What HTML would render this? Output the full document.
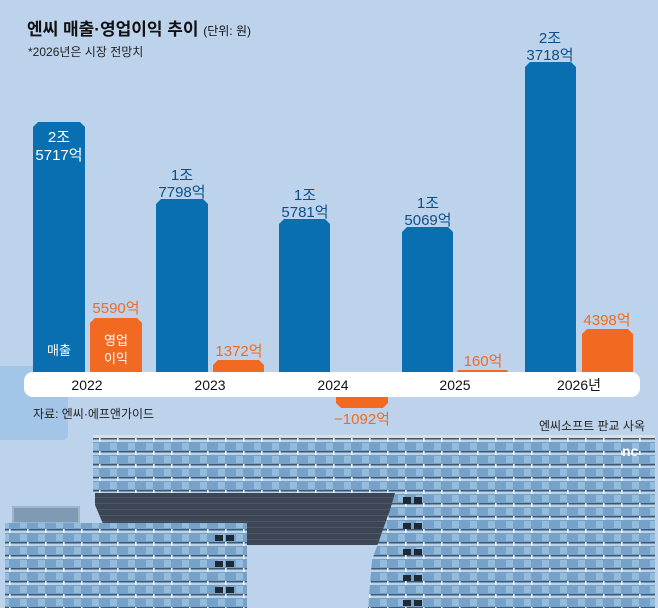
<!DOCTYPE html>
<html><head><meta charset="utf-8"><style>
html,body{margin:0;padding:0;background:#bdd3ec}
svg{display:block}
text{font-family:"Liberation Sans","Noto Sans CJK KR",sans-serif}
</style></head><body>
<svg width="658" height="608" viewBox="0 0 658 608" xmlns="http://www.w3.org/2000/svg">
<defs>
<pattern id="fac" width="18" height="13" patternUnits="userSpaceOnUse">
<rect width="18" height="13" fill="#86aed2"/>
<rect y="0" width="18" height="9" fill="#76a2ca"/>
<rect x="2" y="1" width="7" height="7" fill="#96bcdc"/>
<rect y="9" width="18" height="1.5" fill="#3a5878"/>
<rect x="0" y="10.5" width="18" height="2.5" fill="#bcd2e6"/>
<rect x="9" y="9" width="1.6" height="4" fill="#f2f6fa"/>
</pattern>
<pattern id="ovh" width="10" height="6" patternUnits="userSpaceOnUse">
<rect width="10" height="6" fill="#3c4654"/><rect y="5" width="10" height="1" fill="#4c5766"/>
</pattern>
</defs>
<rect width="658" height="608" fill="#bdd3ec"/>
<rect x="-10" y="366" width="78" height="74" rx="5" fill="#a3c5e8"/>
<text x="27" y="35" font-size="17" font-weight="bold" fill="#111">엔씨 매출·영업이익 추이 <tspan font-size="12" font-weight="normal">(단위: 원)</tspan></text>
<text x="28" y="56" font-size="12" fill="#222">*2026년은 시장 전망치</text>
<g fill="#0a6fb0">
<path d="M33,372V127L38,122H80L85,127V372Z"/>
<path d="M156,372V204L161,199H203L208,204V372Z"/>
<path d="M279,372V224L284,219H325L330,224V372Z"/>
<path d="M402,372V232L407,227H448L453,232V372Z"/>
<path d="M525,372V67L530,62H571L576,67V372Z"/>
</g>
<g fill="#f26a21">
<path d="M90,372V323L95,318H137L142,323V372Z"/>
<path d="M213,372V365L218,360H259L264,365V372Z"/>
<path d="M457,372V371L459,370H506L508,371V372Z"/>
<path d="M582,372V334L587,329H628L633,334V372Z"/>
<path d="M336,396V403L341,408H383L388,403V396Z"/>
</g>
<rect x="24" y="372" width="616" height="25" rx="9" fill="#fff"/>
<g font-size="14" fill="#111" text-anchor="middle">
<text x="87" y="390">2022</text><text x="210" y="390">2023</text><text x="333" y="390">2024</text>
<text x="455" y="390">2025</text><text x="579" y="390">2026년</text>
</g>
<g font-size="15" text-anchor="middle">
<text x="59" y="142" fill="#fff">2조</text><text x="59" y="160" fill="#fff">5717억</text>
<text x="182" y="180" fill="#0b4f8a">1조</text><text x="182" y="197" fill="#0b4f8a">7798억</text>
<text x="305" y="200" fill="#0b4f8a">1조</text><text x="305" y="217" fill="#0b4f8a">5781억</text>
<text x="428" y="208" fill="#0b4f8a">1조</text><text x="428" y="225" fill="#0b4f8a">5069억</text>
<text x="550" y="43" fill="#0b4f8a">2조</text><text x="550" y="60" fill="#0b4f8a">3718억</text>
<text x="116" y="313" fill="#f26a21">5590억</text>
<text x="239" y="356" fill="#f26a21">1372억</text>
<text x="483" y="366" fill="#f26a21">160억</text>
<text x="607" y="325" fill="#f26a21">4398억</text>
<text x="362" y="424" fill="#f26a21">−1092억</text>
</g>
<g font-size="13" text-anchor="middle" fill="#fff">
<text x="59" y="355">매출</text>
<text x="116" y="345">영업</text><text x="116" y="363">이익</text>
</g>
<text x="33" y="418" font-size="12" fill="#222">자료: 엔씨·에프앤가이드</text>
<text x="645" y="430" font-size="12" fill="#222" text-anchor="end">엔씨소프트 판교 사옥</text>
<rect x="93" y="435" width="562" height="3" fill="#d9dfe6"/>
<rect x="93" y="438" width="562" height="55" fill="url(#fac)"/>
<polygon points="95,493 395,493 395,545 112,545 95,505" fill="url(#ovh)"/>
<rect x="12" y="506" width="68" height="18" fill="#9fb4c8"/>
<rect x="14" y="508" width="64" height="14" fill="#7f9ab2"/>
<rect x="5" y="523" width="242" height="85" fill="url(#fac)"/>
<polygon points="395,493 655,493 655,608 368,608 372,560 390,510" fill="url(#fac)"/>
<g fill="#1e2a36">
<rect x="215" y="535" width="8" height="6"/><rect x="226" y="535" width="8" height="6"/>
<rect x="215" y="561" width="8" height="6"/><rect x="226" y="561" width="8" height="6"/>
<rect x="215" y="587" width="8" height="6"/><rect x="226" y="587" width="8" height="6"/>
<rect x="403" y="497" width="8" height="7"/><rect x="414" y="497" width="8" height="7"/>
<rect x="403" y="523" width="8" height="6"/><rect x="414" y="523" width="8" height="6"/>
<rect x="403" y="549" width="8" height="6"/><rect x="414" y="549" width="8" height="6"/>
<rect x="403" y="575" width="8" height="6"/><rect x="414" y="575" width="8" height="6"/>
<rect x="403" y="600" width="8" height="6"/><rect x="414" y="600" width="8" height="6"/>
</g>
<text x="622" y="456" font-size="14" font-weight="bold" fill="#fff">nc</text>
</svg>
</body></html>
